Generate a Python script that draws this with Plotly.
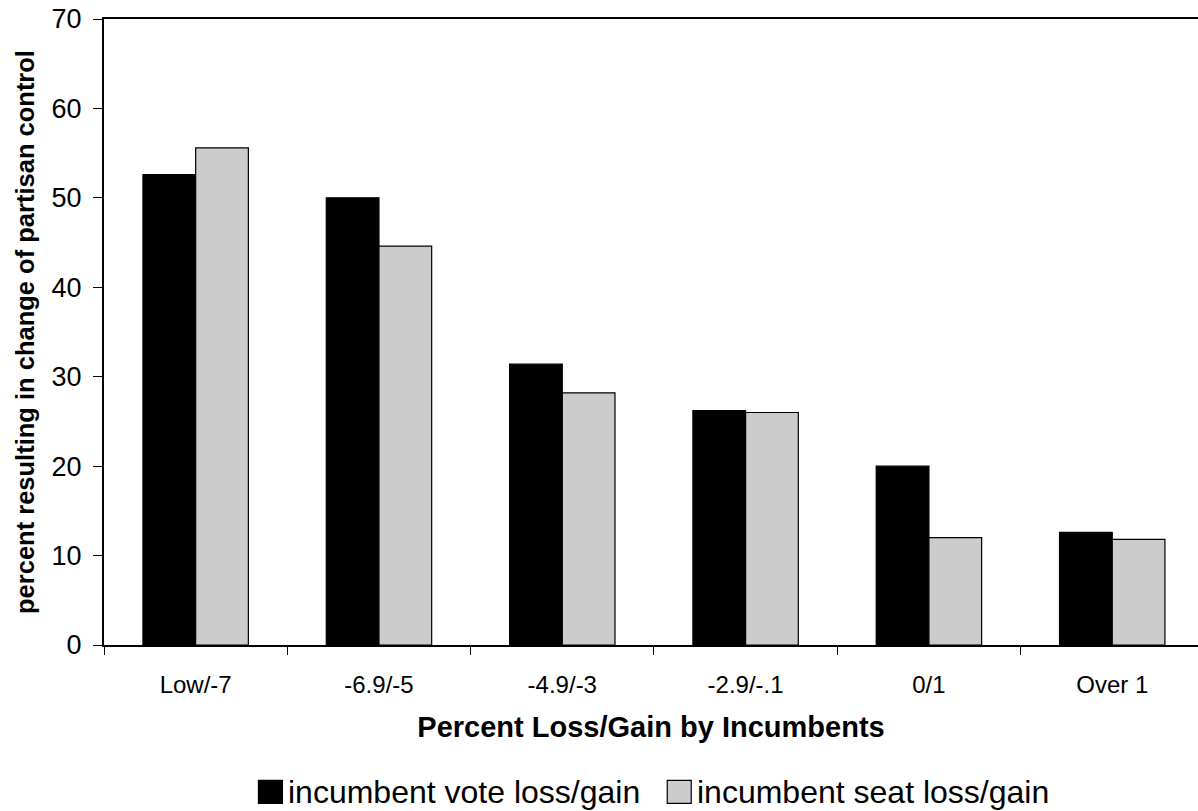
import plotly.graph_objects as go

categories = ["Low/-7", "-6.9/-5", "-4.9/-3", "-2.9/-.1", "0/1", "Over 1"]
vote_loss_gain = [52.6, 50.0, 31.4, 26.2, 20.0, 12.6]
seat_loss_gain = [55.6, 44.6, 28.2, 26.0, 12.0, 11.8]
series_names = ["incumbent vote loss/gain", "incumbent seat loss/gain"]
series_colors = ["#000000", "#cccccc"]
y_ticks = [0, 10, 20, 30, 40, 50, 60, 70]

FONT = "Liberation Sans, Arial, sans-serif"

W, H = 1198, 811
ML, MT, MB = 103.5, 19, 166.3
PW = W - ML
PH = H - MT - MB

fig = go.Figure()
for name, vals, col in zip(series_names, [vote_loss_gain, seat_loss_gain], series_colors):
    fig.add_trace(go.Bar(
        x=list(range(len(categories))), y=vals, name=name,
        marker=dict(color=col, line=dict(color="#000000", width=1.2)),
        showlegend=False,
    ))

fig.update_layout(
    width=W, height=H,
    margin=dict(l=ML, r=0, t=MT, b=MB, autoexpand=False),
    paper_bgcolor="white", plot_bgcolor="white",
    barmode="group", bargap=0.425, bargroupgap=0,
    font=dict(family=FONT, color="#000000"),
)

fig.update_xaxes(
    range=[-0.5, -0.5 + PW / 183.4],
    tickmode="array", tickvals=list(range(len(categories))), ticktext=categories,
    showline=True, linecolor="#000000", linewidth=2, mirror=True,
    ticks="", showgrid=False, zeroline=False,
    tickfont=dict(size=24, family=FONT),
    ticklabelstandoff=17, ticklabeloverflow="allow",
    title=dict(text="<b>Percent Loss/Gain by Incumbents</b>", font=dict(size=29, family=FONT), standoff=20),
)
fig.update_xaxes(minor=dict(tickmode="array", tickvals=[i - 0.5 for i in range(len(categories) + 1)],
                            ticks="outside", ticklen=8, tickcolor="#000000", tickwidth=1))

fig.update_yaxes(
    range=[0, 70], tickvals=y_ticks,
    showline=True, linecolor="#000000", linewidth=2,
    ticks="outside", ticklen=9, tickcolor="#000000", tickwidth=1,
    showgrid=False, zeroline=False,
    tickfont=dict(size=27, family=FONT),
    ticklabelstandoff=6, ticklabeloverflow="allow",
    title=dict(text="<b>percent resulting in change of partisan control</b>", font=dict(size=25.5, family=FONT), standoff=10),
)

# manual legend with large square keys
leg_y = (PH + MT - 791.5) / PH
key_w = 24 / PW
key_h = 23 / PH
positions = [(258 - ML) / PW, (667 - ML) / PW]
for name, col, px in zip(series_names, series_colors, positions):
    fig.add_shape(type="rect", xref="paper", yref="paper",
                  x0=px, x1=px + key_w, y0=leg_y - key_h / 2, y1=leg_y + key_h / 2,
                  fillcolor=col, line=dict(color="#000000", width=1.2))
    fig.add_annotation(xref="paper", yref="paper", x=px + key_w + 4 / PW, y=leg_y,
                       xanchor="left", yanchor="middle", showarrow=False,
                       text=name, font=dict(size=32, family=FONT, color="#000000"))

fig.write_html("out.html", config={"displayModeBar": False},
               post_script="document.body.style.margin='0';document.body.style.overflow='hidden';")
